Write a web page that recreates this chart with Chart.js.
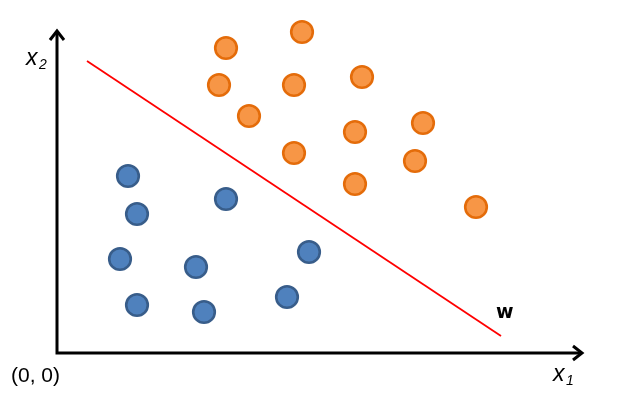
<!DOCTYPE html>
<html>
<head>
<meta charset="utf-8">
<script src="https://cdn.jsdelivr.net/npm/chart.js@4/dist/chart.umd.min.js"></script>
<style>
  html, body { margin: 0; padding: 0; background: #fff; }
  #wrap { width: 618px; height: 401px; }
</style>
</head>
<body>
<div id="wrap"><canvas id="myChart"></canvas></div>
<script>
// values, in the chart's own (x1, x2) units
const claseNaranja = [
    { x: 169, y: 305 }, { x: 245, y: 321 }, { x: 162, y: 268 }, { x: 237, y: 268 },
    { x: 305, y: 276 }, { x: 192, y: 237 }, { x: 298, y: 221 }, { x: 366, y: 230 },
    { x: 237, y: 200 }, { x: 358, y: 192 }, { x: 298, y: 169 }, { x: 419, y: 146 }
]
const claseAzul = [
    { x: 71, y: 177 }, { x: 80, y: 139 }, { x: 169, y: 154 }, { x: 63, y: 94 },
    { x: 139, y: 86 }, { x: 252, y: 101 }, { x: 80, y: 48 }, { x: 147, y: 41 },
    { x: 230, y: 56 }
]
const separador = [{ x: 30, y: 292 }, { x: 444, y: 17 }]
const xMax = 526
const yMax = 323

const ejes = {
    id: 'ejes',
    afterDatasetsDraw(chart) {
        const ctx = chart.ctx
        const sx = chart.scales.x
        const sy = chart.scales.y
        const x0 = sx.getPixelForValue(0)
        const y0 = sy.getPixelForValue(0)
        const xEnd = sx.getPixelForValue(xMax)
        const yEnd = sy.getPixelForValue(yMax)

        ctx.save()
        ctx.strokeStyle = '#000'
        ctx.lineWidth = 3
        ctx.lineCap = 'butt'
        ctx.lineJoin = 'miter'
        ctx.beginPath()
        ctx.moveTo(x0, yEnd + 2)
        ctx.lineTo(x0, y0)
        ctx.lineTo(xEnd - 2, y0)
        ctx.stroke()

        // arrow heads
        ctx.beginPath()
        ctx.moveTo(x0 - 7, yEnd + 10)
        ctx.lineTo(x0, yEnd + 1)
        ctx.lineTo(x0 + 7, yEnd + 10)
        ctx.moveTo(xEnd - 10, y0 - 7)
        ctx.lineTo(xEnd - 1, y0)
        ctx.lineTo(xEnd - 10, y0 + 7)
        ctx.stroke()

        ctx.fillStyle = '#000'
        ctx.textBaseline = 'alphabetic'
        ctx.font = '21px "Liberation Sans", sans-serif'
        ctx.fillText('(0, 0)', x0 - 46, y0 + 29)

        ctx.font = 'italic 23px "Liberation Sans", sans-serif'
        ctx.fillText('x', x0 - 31, y0 - 288)
        ctx.fillText('x', xEnd - 30, y0 + 28)
        ctx.font = 'italic 14px "Liberation Sans", sans-serif'
        ctx.fillText('2', x0 - 18, y0 - 284)
        ctx.fillText('1', xEnd - 17, y0 + 32)

        ctx.font = 'bold 19px "DejaVu Sans", sans-serif'
        ctx.fillText('w', sx.getPixelForValue(439), sy.getPixelForValue(35))
        ctx.restore()
    }
}

new Chart(document.getElementById('myChart'), {
    type: 'scatter',
    data: {
        datasets: [
            {
                label: 'w',
                data: separador,
                showLine: true,
                borderColor: '#ff0000',
                borderWidth: 1.8,
                pointRadius: 0,
                clip: false
            },
            {
                label: 'Clase 1',
                data: claseNaranja,
                backgroundColor: '#f79646',
                borderColor: '#e46c0a',
                borderWidth: 2.6,
                pointRadius: 10.8,
                pointHoverRadius: 10.8,
                clip: false
            },
            {
                label: 'Clase 2',
                data: claseAzul,
                backgroundColor: '#4f81bd',
                borderColor: '#385d8a',
                borderWidth: 2.6,
                pointRadius: 10.8,
                pointHoverRadius: 10.8,
                clip: false
            }
        ]
    },
    options: {
        responsive: true,
        maintainAspectRatio: false,
        animation: false,
        layout: { padding: { left: 57, right: 35, top: 30, bottom: 48 } },
        plugins: {
            legend: { display: false },
            tooltip: { enabled: false }
        },
        scales: {
            x: { type: 'linear', min: 0, max: xMax, display: false },
            y: { type: 'linear', min: 0, max: yMax, display: false }
        }
    },
    plugins: [ejes]
})
</script>
</body>
</html>
